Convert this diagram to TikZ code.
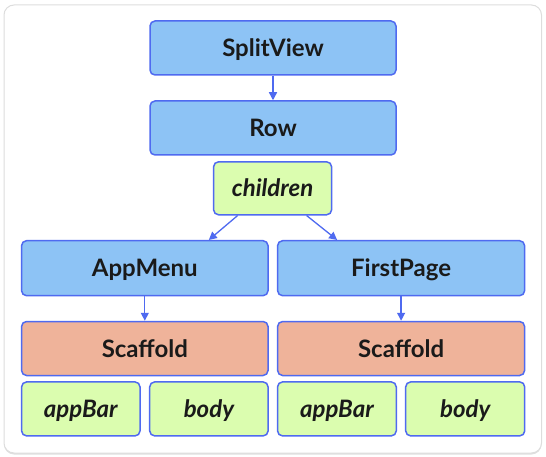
\documentclass[tikz,border=0pt]{standalone}
\usepackage{fontspec}
\setmainfont{Lato}
\usetikzlibrary{arrows.meta,shadows}
\definecolor{bluefill}{HTML}{8DC3F5}
\definecolor{edgeblue}{HTML}{4F6AF0}
\definecolor{greenfill}{HTML}{DBFDAF}
\definecolor{salmonfill}{HTML}{EFB39A}
\definecolor{txt}{HTML}{1A1A1A}
\definecolor{framegray}{HTML}{DDDDDD}
\begin{document}
\begin{tikzpicture}[x=1pt,y=-1pt,
  box/.style={draw=edgeblue,line width=1.5pt,rounded corners=5pt,inner sep=0pt,
    text height=17pt,text depth=0pt,
    minimum height=54pt,text=txt,font=\fontsize{24}{27}\selectfont\bfseries},
  bluebox/.style={box,fill=bluefill},
  greenbox/.style={box,fill=greenfill,font=\fontsize{24}{27}\selectfont\bfseries\itshape},
  salmonbox/.style={box,fill=salmonfill},
  arr/.style={draw=edgeblue,line width=1.3pt,-{Triangle[length=8pt,width=8pt]}}]
\useasboundingbox (0,0) rectangle (546,457);
\draw[framegray,fill=white,rounded corners=10pt,line width=1pt,
  drop shadow={shadow xshift=0pt,shadow yshift=-1.5pt,opacity=0.25}] (4,5) rectangle (541.5,453);
\node[bluebox,minimum width=246pt] (split) at (273,48) {SplitView};
\node[bluebox,minimum width=246pt] (row) at (273,128) {Row};
\node[greenbox,minimum width=118pt,minimum height=53pt] (children) at (272.6,188.3) {children};
\node[bluebox,minimum width=246.5pt,minimum height=55pt] (appmenu) at (144.8,268.2) {AppMenu};
\node[bluebox,minimum width=247pt,minimum height=55pt] (firstpage) at (401.1,268.2) {FirstPage};
\node[salmonbox,minimum width=246.5pt] (scafL) at (144.8,348.5) {Scaffold};
\node[salmonbox,minimum width=247pt] (scafR) at (401.1,348.5) {Scaffold};
\node[greenbox,minimum width=118.4pt] (appbarL) at (80.8,408.9) {appBar};
\node[greenbox,minimum width=118.4pt] (bodyL) at (208.9,408.9) {body};
\node[greenbox,minimum width=118.7pt] (appbarR) at (336.9,408.9) {appBar};
\node[greenbox,minimum width=119pt] (bodyR) at (465.2,408.9) {body};
\draw[arr] (split) -- (row);
\draw[arr] ([xshift=-35pt]children.south) -- ([xshift=64pt]appmenu.north);
\draw[arr] ([xshift=34pt]children.south) -- ([xshift=-64pt]firstpage.north);
\draw[arr] (appmenu) -- (scafL);
\draw[arr] (firstpage) -- (scafR);
\end{tikzpicture}
\end{document}
